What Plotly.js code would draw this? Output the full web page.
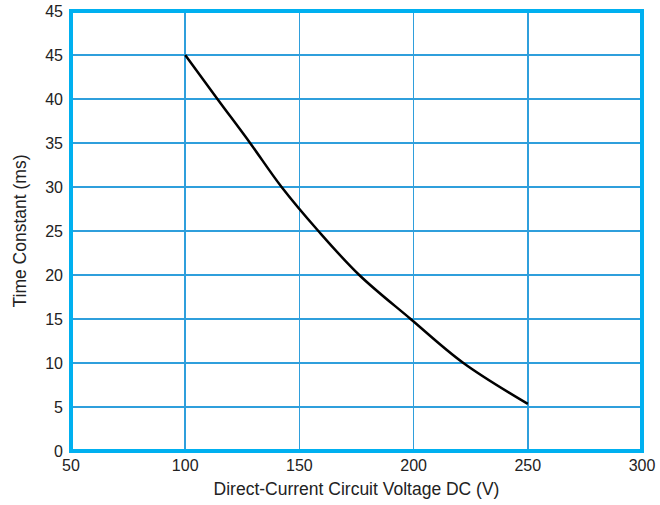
<!DOCTYPE html>
<html>
<head>
<meta charset="utf-8">
<script src="https://cdn.plot.ly/plotly-3.0.1.min.js"></script>
<style>html,body{margin:0;padding:0;background:#fff;}#chart{width:660px;height:505px;}</style>
</head>
<body>
<div id="chart"></div>
<script>
var voltage = [100, 114.1, 128.4, 142.2, 158.3, 176.2, 198.7, 221.8, 250];
var timeConstant = [45, 40, 35, 30, 25, 20, 15, 10, 5.35];
var yTickVals = [0, 5, 10, 15, 20, 25, 30, 35, 40, 45, 50];
var yTickText = ["0", "5", "10", "15", "20", "25", "30", "35", "40", "45", "45"];
var xTickVals = [50, 100, 150, 200, 250, 300];

var tickFont = {family: "Liberation Sans, Arial, sans-serif", size: 16, color: "#222"};
var titleFont = {family: "Liberation Sans, Arial, sans-serif", size: 17.5, color: "#222"};
var gridColor = "#2f9fdc";
var borderColor = "#00b0f0";

Plotly.newPlot("chart", [{
  x: voltage, y: timeConstant, type: "scatter", mode: "lines",
  line: {color: "#000", width: 2.5, shape: "spline", smoothing: 1},
  hoverinfo: "skip"
}], {
  width: 660, height: 505,
  margin: {l: 71, r: 18, t: 11, b: 54},
  paper_bgcolor: "#fff", plot_bgcolor: "#fff",
  showlegend: false,
  font: tickFont,
  xaxis: {
    range: [50, 300], tickvals: xTickVals, ticks: "", showline: false, zeroline: false,
    gridcolor: gridColor, gridwidth: 1.6, tickfont: tickFont, ticklabelstandoff: 3,
    title: {text: "Direct-Current Circuit Voltage DC (V)", font: titleFont, standoff: 9}
  },
  yaxis: {
    range: [0, 50], tickvals: yTickVals, ticktext: yTickText, ticks: "", showline: false, zeroline: false,
    gridcolor: gridColor, gridwidth: 1.6, tickfont: tickFont, ticklabelstandoff: 7,
    title: {text: "Time Constant (ms)", font: titleFont, standoff: 14}
  },
  shapes: [{
    type: "rect", xref: "paper", yref: "paper", x0: 0, x1: 1, y0: 0, y1: 1,
    line: {color: borderColor, width: 4}, layer: "above"
  }]
}, {staticPlot: true, displayModeBar: false});
</script>
</body>
</html>
